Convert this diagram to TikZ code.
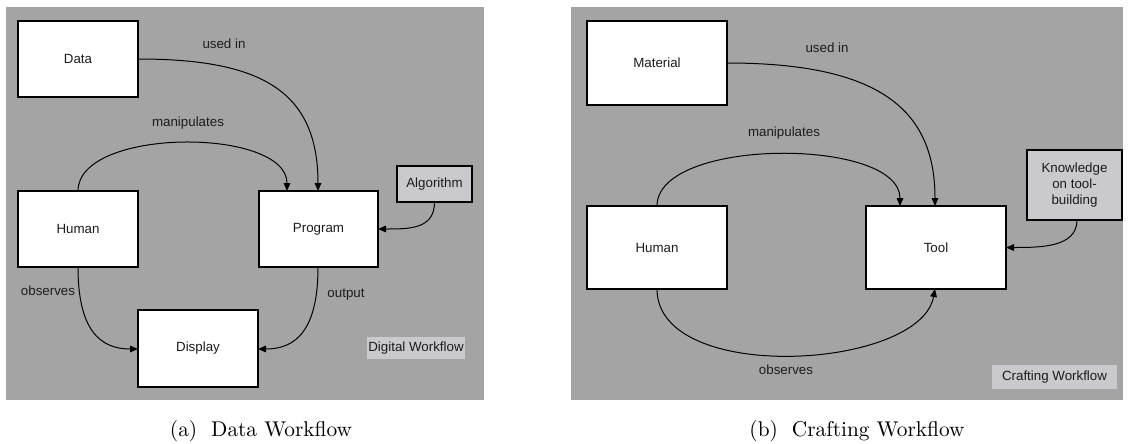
\documentclass[tikz,border=0pt]{standalone}
\usepackage{fontspec}
\setmainfont{Latin Modern Roman}
\newfontfamily\diagfont{Liberation Sans}
\newfontfamily\captfont{lmroman10-regular.otf}
\usetikzlibrary{arrows.meta}
\definecolor{panelgray}{HTML}{A4A4A4}
\definecolor{notefill}{HTML}{C9C9CE}
\definecolor{inkcol}{HTML}{1C1C1C}
\tikzset{
  panel/.style={fill=panelgray, draw=none},
  block/.style={draw=black, line width=0.9pt, fill=white},
  noteblock/.style={draw=black, line width=0.9pt, fill=notefill},
  tagbox/.style={fill=notefill, draw=none},
  lbl/.style={font=\diagfont\fontsize{10}{12}\selectfont, text=inkcol},
  flow/.style={draw=black, line width=0.75pt, -{Triangle[length=6pt,width=5pt]}},
  capt/.style={font=\captfont\fontsize{16}{19}\selectfont, text=black, anchor=base, inner sep=0pt}
}
\begin{document}
\begin{tikzpicture}[x=0.75pt, y=-0.75pt]
\useasboundingbox (0,0) rectangle (1128,443);

% ---------- (a) Data Workflow ----------
\fill[panelgray] (6,7) rectangle (484,400);
\draw[block] (18,21) rectangle (138,97);
\node[lbl] (data) at (78,59) {Data};
\coordinate (dataE) at (138,59);
\draw[block] (18,191) rectangle (138,267);
\node[lbl] (humanA) at (78,229) {Human};
\coordinate (humanAN) at (78,191);
\coordinate (humanAS) at (78,267);
\draw[block] (259,191) rectangle (378,267);
\node[lbl] (program) at (318.5,229) {Program};
\coordinate (progN1) at (287,191);
\coordinate (progN2) at (318,191);
\coordinate (progE) at (378,229);
\coordinate (progS) at (318,267);
\draw[block] (138,310) rectangle (258,387);
\node[lbl] (display) at (198,348.5) {Display};
\coordinate (dispW) at (138,349);
\coordinate (dispE) at (258,349);
\draw[noteblock] (397,166) rectangle (472,202);
\node[lbl] (algo) at (434.5,184) {Algorithm};
\coordinate (algoS) at (434.5,202);
\fill[tagbox] (367,337) rectangle (465,359);
\node[lbl] (digital) at (416,348) {Digital Workflow};

\draw[flow] (dataE) .. controls (260,59) and (318,90) .. (progN2);
\draw[flow] (humanAN) .. controls (78,127) and (287,127) .. (progN1);
\draw[flow] (algoS) .. controls (434.5,229) and (410,229) .. (progE);
\draw[flow] (humanAS) .. controls (78,330) and (100,349) .. (dispW);
\draw[flow] (progS) .. controls (318,330) and (296,349) .. (dispE);

\node[lbl] (usedA) at (224,44) {used in};
\node[lbl] (manipA) at (188,123) {manipulates};
\node[lbl] (obsA) at (48,291) {observes};
\node[lbl] (outA) at (346,295) {output};

\node[capt] (captA) at (261,436) {(a)\hskip 10.5pt Data Workflow};

% ---------- (b) Crafting Workflow ----------
\fill[panelgray] (571,7) rectangle (1123,400);
\draw[block] (587,21) rectangle (727,105);
\node[lbl] (material) at (657,63) {Material};
\coordinate (matE) at (727,63);
\draw[block] (587,206) rectangle (727,289);
\node[lbl] (humanB) at (657,247.5) {Human};
\coordinate (humanBN) at (657,206);
\coordinate (humanBS) at (657,289);
\draw[block] (866,206) rectangle (1006,289);
\node[lbl] (tool) at (936,247.5) {Tool};
\coordinate (toolN1) at (900,206);
\coordinate (toolN2) at (935,206);
\coordinate (toolE) at (1006,247.5);
\coordinate (toolS) at (935,289);
\draw[noteblock] (1027,150) rectangle (1122,220);
\node[lbl, align=center] (know) at (1074.5,185) {Knowledge\\on tool-\\building};
\coordinate (knowS) at (1077,220);
\fill[tagbox] (992,365) rectangle (1117,389);
\node[lbl] (crafting) at (1054.5,377) {Crafting Workflow};

\draw[flow] (matE) .. controls (880,63) and (935,110) .. (toolN2);
\draw[flow] (humanBN) .. controls (657,137) and (900,137) .. (toolN1);
\draw[flow] (knowS) .. controls (1077,247.5) and (1040,247.5) .. (toolE);
\draw[flow] (humanBS) .. controls (657,385) and (920,370) .. (toolS);

\node[lbl] (usedB) at (827,48) {used in};
\node[lbl] (manipB) at (784,133) {manipulates};
\node[lbl] (obsB) at (786,370) {observes};

\node[capt] (captB) at (857,436) {(b)\hskip 10.5pt Crafting Workflow};
\end{tikzpicture}
\end{document}
